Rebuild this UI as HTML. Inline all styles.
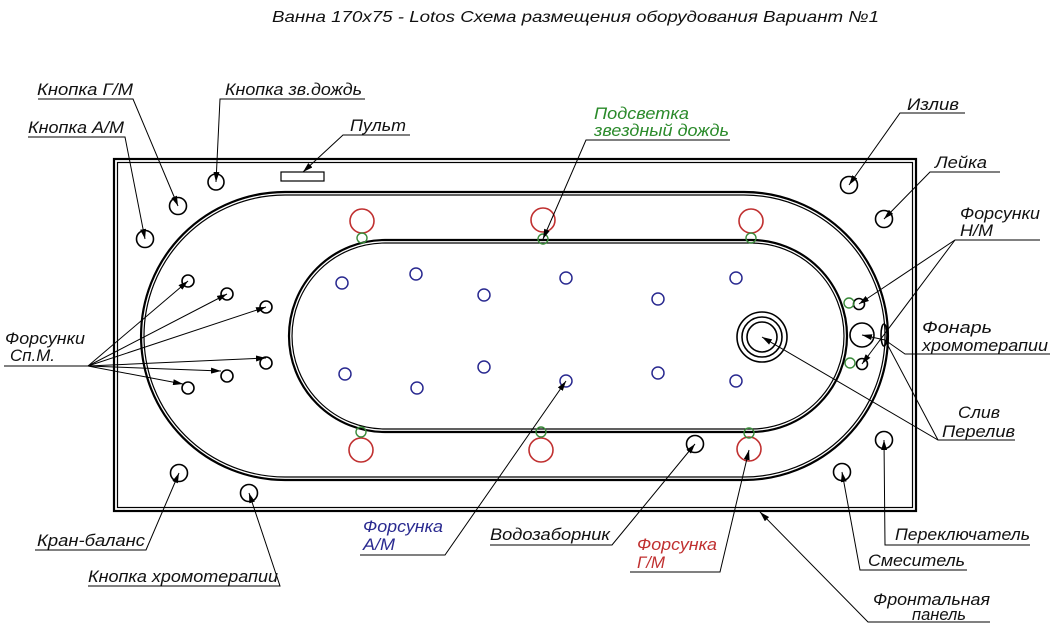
<!DOCTYPE html>
<html><head><meta charset="utf-8"><style>
html,body{margin:0;padding:0;background:#fff;}
svg{display:block}
text{font-family:"Liberation Sans",sans-serif;font-style:italic;font-size:17px;fill:#111}
</style></head><body>
<svg width="1055" height="631" viewBox="0 0 1055 631" xmlns="http://www.w3.org/2000/svg">
<defs>
<marker id="a" viewBox="0 0 10 6" refX="10" refY="3" markerWidth="10" markerHeight="6" orient="auto" markerUnits="userSpaceOnUse"><path d="M0,0 L10,3 L0,6 z" fill="#000"/></marker>
</defs>
<text x="272" y="22" textLength="607" lengthAdjust="spacingAndGlyphs" style="font-size:16px">Ванна 170x75 - Lotos Схема размещения оборудования Вариант №1</text>

<g fill="none" stroke="#000">
<rect x="114" y="159" width="802" height="352" stroke-width="2.2"/>
<rect x="117.5" y="162.5" width="795" height="345" stroke-width="1.2"/>
<path d="M285,192 H744 A144,144 0 0 1 744,480 H285 A144,144 0 0 1 285,192 Z" stroke-width="2.2"/>
<path d="M285,195 H744 A141,141 0 0 1 744,477 H285 A141,141 0 0 1 285,195 Z" stroke-width="1.2"/>
<path d="M385,240 H751 A96,96 0 0 1 751,432 H385 A96,96 0 0 1 385,240 Z" stroke-width="2.2"/>
<path d="M385,243 H751 A93,93 0 0 1 751,429 H385 A93,93 0 0 1 385,243 Z" stroke-width="1.2"/>
<rect x="281" y="172" width="43" height="9" stroke-width="1.2"/>
<g stroke-width="1.6">
<circle cx="178" cy="206" r="8.5"/><circle cx="216" cy="182" r="8"/><circle cx="145" cy="239" r="8.5"/>
<circle cx="179" cy="473" r="8.5"/><circle cx="249" cy="493" r="8.5"/><circle cx="849" cy="185" r="8.5"/>
<circle cx="884" cy="219" r="8.5"/><circle cx="842" cy="472" r="8.5"/><circle cx="884" cy="440" r="8.5"/>
<circle cx="695" cy="444" r="8.5"/>
<circle cx="188" cy="281" r="6"/><circle cx="227" cy="294" r="6"/><circle cx="266" cy="307" r="6"/>
<circle cx="266" cy="363" r="6"/><circle cx="227" cy="376" r="6"/><circle cx="188" cy="388" r="6"/>
<circle cx="859" cy="304" r="5.5"/><circle cx="862" cy="364" r="5.5"/>
<circle cx="862" cy="335" r="12"/>
<circle cx="762" cy="337" r="25"/><circle cx="762" cy="337" r="20"/><circle cx="762" cy="337" r="15"/>
<ellipse cx="884" cy="335" rx="3" ry="11"/>
</g>
<g stroke="#c03030" stroke-width="1.6">
<circle cx="362" cy="221" r="12"/><circle cx="543" cy="220" r="12"/><circle cx="751" cy="221" r="12"/>
<circle cx="361" cy="450" r="12"/><circle cx="541" cy="450" r="12"/><circle cx="749" cy="449" r="12"/>
</g>
<g stroke="#3a8a3a" stroke-width="1.4">
<circle cx="362" cy="238" r="5"/><circle cx="543" cy="239" r="5"/><circle cx="751" cy="238" r="5"/>
<circle cx="361" cy="432" r="5"/><circle cx="541" cy="432" r="5"/><circle cx="749" cy="433" r="5"/>
<circle cx="849" cy="303" r="5"/><circle cx="850" cy="363" r="5"/>
</g>
<g stroke="#2a2a90" stroke-width="1.5">
<circle cx="342" cy="283" r="6"/><circle cx="416" cy="274" r="6"/><circle cx="484" cy="295" r="6"/>
<circle cx="566" cy="278" r="6"/><circle cx="658" cy="299" r="6"/><circle cx="736" cy="278" r="6"/>
<circle cx="345" cy="374" r="6"/><circle cx="417" cy="388" r="6"/><circle cx="484" cy="367" r="6"/>
<circle cx="566" cy="381" r="6"/><circle cx="658" cy="373" r="6"/><circle cx="736" cy="381" r="6"/>
</g>

<g stroke-width="1">
<path d="M38,99 H133 L178,206" marker-end="url(#a)"/>
<path d="M365,99 H220 L216,182" marker-end="url(#a)"/>
<path d="M28,137 H125 L145,239" marker-end="url(#a)"/>
<path d="M410,135 H343 L303,172" marker-end="url(#a)"/>
<path d="M730,140 H586 L543,239" marker-end="url(#a)"/>
<path d="M965,113 H900 L849,185" marker-end="url(#a)"/>
<path d="M1000,172 H930 L884,219" marker-end="url(#a)"/>
<path d="M1040,240 H955 L859,304" marker-end="url(#a)"/>
<path d="M955,240 L862,364" marker-end="url(#a)"/>
<path d="M1050,354 H905 L885,340 L862,335" marker-end="url(#a)"/>
<path d="M1015,440 H938 L762,337" marker-end="url(#a)"/>
<path d="M938,440 L885,340" />
<path d="M4,366 H88"/>
<path d="M88,366 L188,281" marker-end="url(#a)"/>
<path d="M88,366 L227,294" marker-end="url(#a)"/>
<path d="M88,366 L266,307" marker-end="url(#a)"/>
<path d="M88,366 L266,358" marker-end="url(#a)"/>
<path d="M88,366 L221,371" marker-end="url(#a)"/>
<path d="M88,366 L183,384" marker-end="url(#a)"/>
<path d="M35,550 H146 L179,473" marker-end="url(#a)"/>
<path d="M88,586 H280 L249,493" marker-end="url(#a)"/>
<path d="M360,555 H445 L566,381" marker-end="url(#a)"/>
<path d="M490,545 H612 L695,444" marker-end="url(#a)"/>
<path d="M630,572 H720 L749,450" marker-end="url(#a)"/>
<path d="M967,570 H860 L842,472" marker-end="url(#a)"/>
<path d="M1030,545 H885 L884,440" marker-end="url(#a)"/>
<path d="M990,622 H868 L760,512" marker-end="url(#a)"/>
</g>
</g>

<text x="37" y="95" textLength="96" lengthAdjust="spacingAndGlyphs">Кнопка Г/М</text>
<text x="225" y="95" textLength="137" lengthAdjust="spacingAndGlyphs">Кнопка зв.дождь</text>
<text x="28" y="133" textLength="96" lengthAdjust="spacingAndGlyphs">Кнопка А/М</text>
<text x="350" y="131" textLength="56" lengthAdjust="spacingAndGlyphs">Пульт</text>
<text x="594" y="119" style="fill:#2a8a2a" textLength="95" lengthAdjust="spacingAndGlyphs">Подсветка</text>
<text x="594" y="136" style="fill:#2a8a2a" textLength="135" lengthAdjust="spacingAndGlyphs">звездный дождь</text>
<text x="907" y="110" textLength="52" lengthAdjust="spacingAndGlyphs">Излив</text>
<text x="935" y="168" textLength="52" lengthAdjust="spacingAndGlyphs">Лейка</text>
<text x="960" y="219" textLength="80" lengthAdjust="spacingAndGlyphs">Форсунки</text>
<text x="960" y="236" textLength="33" lengthAdjust="spacingAndGlyphs">Н/М</text>
<text x="922" y="333" textLength="70" lengthAdjust="spacingAndGlyphs">Фонарь</text>
<text x="922" y="351" textLength="126" lengthAdjust="spacingAndGlyphs">хромотерапии</text>
<text x="958" y="418" textLength="42" lengthAdjust="spacingAndGlyphs">Слив</text>
<text x="942" y="437" textLength="73" lengthAdjust="spacingAndGlyphs">Перелив</text>
<text x="5" y="344" textLength="80" lengthAdjust="spacingAndGlyphs">Форсунки</text>
<text x="10" y="361" textLength="45" lengthAdjust="spacingAndGlyphs">Сп.М.</text>
<text x="37" y="546" textLength="108" lengthAdjust="spacingAndGlyphs">Кран-баланс</text>
<text x="88" y="582" textLength="190" lengthAdjust="spacingAndGlyphs">Кнопка хромотерапии</text>
<text x="363" y="532" style="fill:#2a2a90" textLength="80" lengthAdjust="spacingAndGlyphs">Форсунка</text>
<text x="363" y="550" style="fill:#2a2a90" textLength="32" lengthAdjust="spacingAndGlyphs">А/М</text>
<text x="490" y="540" textLength="120" lengthAdjust="spacingAndGlyphs">Водозаборник</text>
<text x="637" y="550" style="fill:#c03030" textLength="80" lengthAdjust="spacingAndGlyphs">Форсунка</text>
<text x="637" y="568" style="fill:#c03030" textLength="28" lengthAdjust="spacingAndGlyphs">Г/М</text>
<text x="868" y="566" textLength="97" lengthAdjust="spacingAndGlyphs">Смеситель</text>
<text x="895" y="540" textLength="135" lengthAdjust="spacingAndGlyphs">Переключатель</text>
<text x="873" y="605" textLength="117" lengthAdjust="spacingAndGlyphs">Фронтальная</text>
<text x="912" y="620" textLength="54" lengthAdjust="spacingAndGlyphs">панель</text>
</svg>
</body></html>
